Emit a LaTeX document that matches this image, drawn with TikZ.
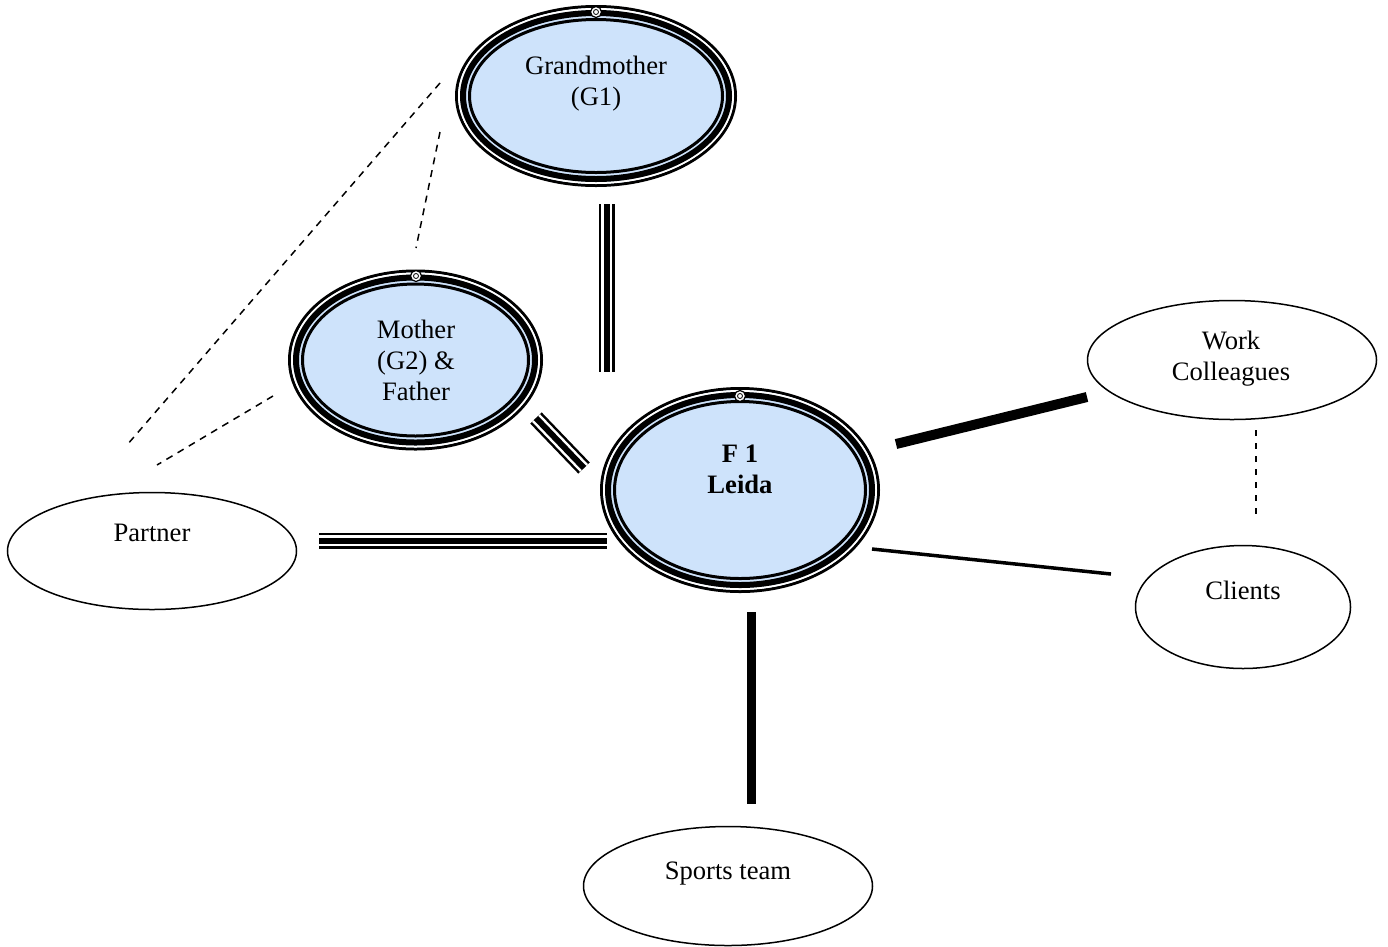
\documentclass[tikz,border=0pt]{standalone}
\usepackage{fontspec}
\setmainfont{Liberation Serif}
\usetikzlibrary{shapes.geometric}
\definecolor{famblue}{RGB}{206,227,251}

% filled family member: outer thin ring is the node border, the rest is added by \famrings
\newcommand{\famrings}[3]{%
  \draw[white,line width=2pt] (#1.center) ellipse [x radius=#2pt-4pt, y radius=#3pt-4pt];
  \draw[black,line width=6pt] (#1.center) ellipse [x radius=#2pt-8pt, y radius=#3pt-8pt];
  \draw[black,line width=3pt] (#1.center) ellipse [x radius=#2pt-14.5pt, y radius=#3pt-14.5pt];
}

\begin{document}
\begin{tikzpicture}[x=1pt,y=-1pt,
  every node/.style={font=\fontsize{26.6}{31}\selectfont},
  famnode/.style={ellipse, draw, line width=3pt, fill=famblue, inner sep=0pt},
  plainnode/.style={ellipse, draw, line width=1.5pt, fill=white, inner sep=0pt},
  label text/.style={align=center, anchor=base, inner sep=0pt},
  marker/.style={circle, draw, fill=white, line width=1.2pt, minimum size=11pt, inner sep=0pt},
  tripleline/.style={line width=16pt, postaction={draw=white,line width=11pt},
                     postaction={draw=black,line width=6pt}},
  dashlink/.style={line width=1.5pt, dash pattern=on 7pt off 6pt},
]
\useasboundingbox (0,0) rectangle (1388,946);

% ---- family members (triple-ringed ellipses) ----
\node[famnode, minimum width=279pt, minimum height=179pt] (gm) at (596,96) {};
\famrings{gm}{141}{91}
\node[famnode, minimum width=252pt, minimum height=178pt] (mo) at (415.5,360) {};
\famrings{mo}{127.5}{90.5}
\node[famnode, minimum width=277pt, minimum height=203pt] (f1) at (740,490) {};
\famrings{f1}{140}{103}

\node[marker] (gm-mark) at (596,12) {};
\draw[line width=0.8pt] (gm-mark.center) circle [radius=2.5pt];
\node[marker] (mo-mark) at (416,276) {};
\draw[line width=0.8pt] (mo-mark.center) circle [radius=2.5pt];
\node[marker] (f1-mark) at (740,396) {};
\draw[line width=0.8pt] (f1-mark.center) circle [radius=2.5pt];

% multi-line labels are anchored on the baseline of their last line
\node[label text] (gm-text) at (596,105) {Grandmother\\(G1)};
\node[label text] (mo-text) at (416,400) {Mother\\(G2) \&\\Father};
\node[label text, font=\fontsize{26.6}{31}\selectfont\bfseries] (f1-text) at (740,493) {F 1\\Leida};

% ---- other contacts ----
\node[plainnode, minimum width=289pt, minimum height=119pt] (work) at (1232,360) {};
\node[plainnode, minimum width=289pt, minimum height=117pt] (partner) at (152,551) {};
\node[plainnode, minimum width=215pt, minimum height=123pt] (clients) at (1243,607) {};
\node[plainnode, minimum width=289pt, minimum height=119pt] (sports) at (728,886) {};

\node[label text] (work-text) at (1231,380) {Work\\Colleagues};
\node[label text] (partner-text) at (152,541) {Partner};
\node[label text] (clients-text) at (1243,599) {Clients};
\node[label text] (sports-text) at (728,879) {Sports team};

% ---- connector end points ----
\coordinate (gm-f1-a) at (606.5,204);   \coordinate (gm-f1-b) at (606.5,372);
\coordinate (mo-f1-a) at (536,418);     \coordinate (mo-f1-b) at (584,468);
\coordinate (pa-f1-a) at (319,540.5);   \coordinate (pa-f1-b) at (607,540.5);
\coordinate (f1-wk-a) at (896,444);     \coordinate (f1-wk-b) at (1087,397);
\coordinate (f1-cl-a) at (872,549);     \coordinate (f1-cl-b) at (1111,574);
\coordinate (f1-sp-a) at (751.5,612);   \coordinate (f1-sp-b) at (751.5,804);
\coordinate (gm-pa-a) at (440,83);      \coordinate (gm-pa-b) at (127,445);
\coordinate (gm-mo-a) at (440,132);     \coordinate (gm-mo-b) at (416,248);
\coordinate (mo-pa-a) at (273,396);     \coordinate (mo-pa-b) at (157,465);
\coordinate (wk-cl-a) at (1256,430);    \coordinate (wk-cl-b) at (1256,521);

% ---- connectors ----
\draw[tripleline] (gm-f1-a) -- (gm-f1-b);
\draw[tripleline] (mo-f1-a) -- (mo-f1-b);
\draw[tripleline] (pa-f1-a) -- (pa-f1-b);
\draw[line width=10pt] (f1-wk-a) -- (f1-wk-b);
\draw[line width=3.5pt] (f1-cl-a) -- (f1-cl-b);
\draw[line width=8.5pt] (f1-sp-a) -- (f1-sp-b);
\draw[dashlink] (gm-pa-a) -- (gm-pa-b);
\draw[dashlink] (gm-mo-a) -- (gm-mo-b);
\draw[dashlink] (mo-pa-a) -- (mo-pa-b);
\draw[line width=2pt, dash pattern=on 6pt off 7pt] (wk-cl-a) -- (wk-cl-b);
\end{tikzpicture}
\end{document}
